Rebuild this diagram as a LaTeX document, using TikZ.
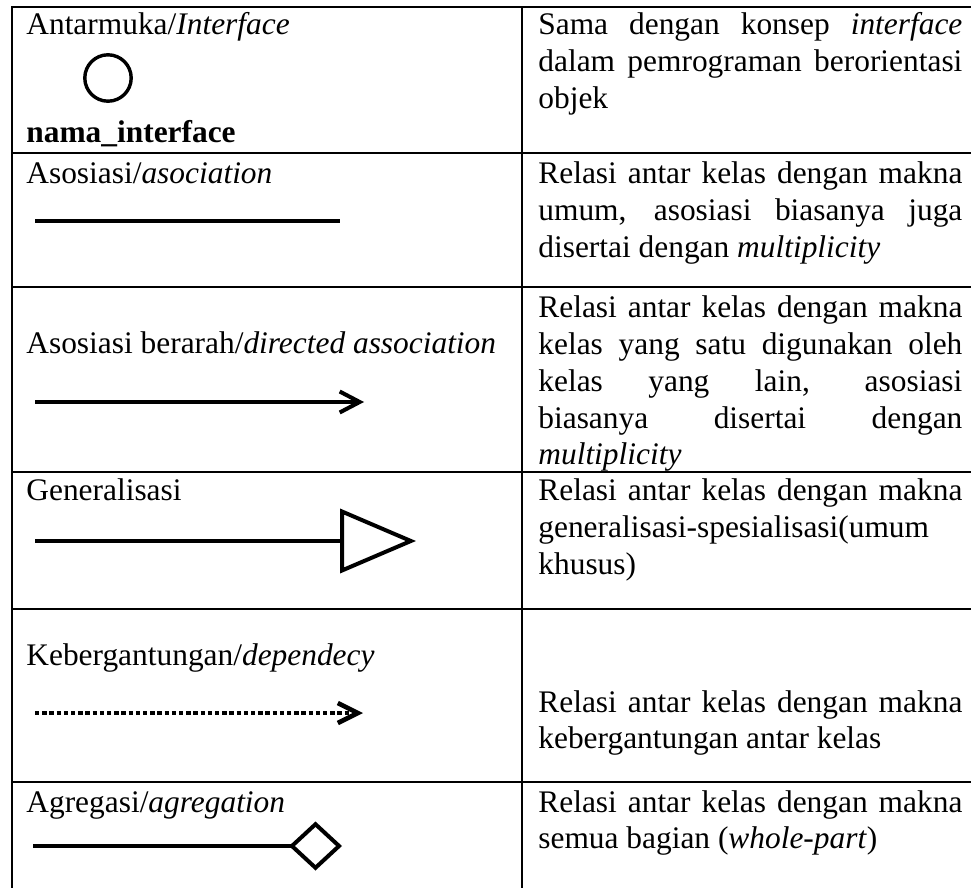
\documentclass[tikz,border=0pt]{standalone}
\usepackage{fontspec}
\setmainfont{Liberation Serif}
\usetikzlibrary{arrows.meta}
\newcommand{\jl}[1]{\makebox[\linewidth][s]{#1}\\}

\begin{document}
\begin{tikzpicture}[x=0.5pt, y=-0.5pt,
  rule/.style={line width=1.35pt},
  lbl/.style={anchor=base west, inner sep=0pt, font=\fontsize{15.7}{18.35}\selectfont},
  conn/.style={line width=2pt},
  dots/.style={line width=2.3pt, dash pattern=on 2.2pt off 1.4pt}]
\useasboundingbox (0,0) rectangle (971,888);
\draw[rule] (12,888) -- (12,7) -- (971,7);
\draw[rule] (522,7) -- (522,888);
\draw[rule] (12,153) -- (971,153);
\draw[rule] (12,287) -- (971,287);
\draw[rule] (12,472) -- (971,472);
\draw[rule] (12,609) -- (971,609);
\draw[rule] (12,782) -- (971,782);
\node[lbl] (iface) at (26,35) {Antarmuka/\textit{Interface}};
\coordinate (ifacesym) at (108,78);
\draw[line width=1.7pt] (ifacesym) circle (11.6pt);
\node[lbl] (ifacename) at (26,143) {\textbf{nama\_interface}};
\node[lbl] (assoc) at (26,184) {Asosiasi/\textit{asociation}};
\node[lbl] (dirassoc) at (26,353) {Asosiasi berarah/\textit{directed association}};
\node[lbl] (gener) at (26,501) {Generalisasi};
\node[lbl] (depend) at (26,665) {Kebergantungan/\textit{dependecy}};
\node[lbl] (aggreg) at (26,812) {Agregasi/\textit{agregation}};
\node[lbl] (ifacedesc) at (538,35) {\parbox[t]{212pt}{\jl{Sama dengan konsep \textit{interface}}\jl{dalam pemrograman berorientasi}objek}};
\node[lbl] (assocdesc) at (538,184) {\parbox[t]{212pt}{\jl{Relasi antar kelas dengan makna}\jl{umum, asosiasi biasanya juga}disertai dengan \textit{multiplicity}}};
\node[lbl] (dirassocdesc) at (538,318) {\parbox[t]{212pt}{\jl{Relasi antar kelas dengan makna}\jl{kelas yang satu digunakan oleh}\jl{kelas yang lain, asosiasi}\jl{biasanya disertai dengan}\textit{multiplicity}}};
\node[lbl] (generdesc) at (538,501) {\parbox[t]{212pt}{\jl{Relasi antar kelas dengan makna}generalisasi-spesialisasi(umum\\khusus)}};
\node[lbl] (dependdesc) at (538,712) {\parbox[t]{212pt}{\jl{Relasi antar kelas dengan makna}kebergantungan antar kelas}};
\node[lbl] (aggregdesc) at (538,812) {\parbox[t]{212pt}{\jl{Relasi antar kelas dengan makna}semua bagian (\textit{whole-part})}};
\coordinate (as1) at (35,221);
\coordinate (as2) at (340,221);
\draw[conn] (as1) -- (as2);
\coordinate (da1) at (35,402);
\coordinate (da2) at (364,402);
\draw[conn, -{Straight Barb[length=10pt, width=10.5pt]}] (da1) -- (da2);
\coordinate (ge1) at (35,541);
\coordinate (ge2) at (416,541);
\draw[conn, -{Triangle[open, length=38pt, width=32pt]}] (ge1) -- (ge2);
\coordinate (de1) at (35,713);
\coordinate (de2) at (363,713);
\draw[dots, -{Straight Barb[length=10pt, width=10pt]}] (de1) -- (de2);
\coordinate (ag1) at (33,846);
\coordinate (ag2) at (342,846);
\draw[conn, -{Diamond[open, length=26.5pt, width=24.5pt]}] (ag1) -- (ag2);
\end{tikzpicture}
\end{document}
